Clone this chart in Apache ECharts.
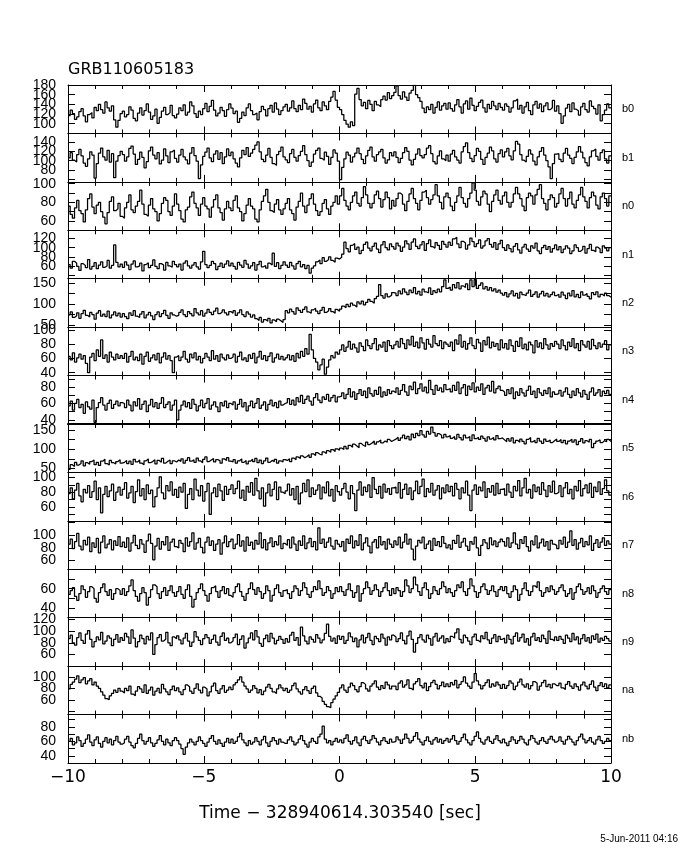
<!DOCTYPE html>
<html><head><meta charset="utf-8">
<script src="https://cdn.jsdelivr.net/npm/echarts@6/dist/echarts.min.js"></script>
<style>html,body{margin:0;padding:0;background:#fff}#c{width:680px;height:850px}</style>
</head><body><div id="c"></div>
<script>
const titleText = 'GRB110605183';
const xTitle = 'Time \u2212 328940614.303540 [sec]';
const dateText = '5-Jun-2011 04:16';
const detectors = ['b0','b1','n0','n1','n2','n3','n4','n5','n6','n7','n8','n9','na','nb'];
const tStart = -10, tEnd = 10, binWidth = 0.08;
const xTickLabels = [-10,-5,0,5,10];

const b0 = [117,128,121,109,114,125,131,116,104,119,123,112,134,127,140,129,122,145,133,126,137,108,93,107,121,
126,114,119,135,128,111,106,122,133,118,127,141,124,109,116,130,101,113,126,134,119,123,138,117,112,
120,133,127,139,118,124,145,137,121,113,126,119,131,142,125,136,148,128,116,122,134,127,115,129,141,
132,121,126,103,111,124,117,133,141,127,119,122,108,125,136,129,116,131,138,124,143,130,119,127,135,
140,126,133,147,131,125,138,129,151,142,130,136,124,141,149,133,127,145,137,129,146,155,167,149,134,
129,119,107,99,93,104,96,161,173,150,137,144,131,148,140,127,146,139,135,150,157,149,164,152,158,
165,178,158,151,166,155,148,163,169,179,160,154,146,132,123,135,129,140,122,134,145,128,137,142,130,
143,131,126,139,150,135,122,141,147,130,153,138,127,136,144,149,133,124,140,131,146,137,129,142,134,
128,141,136,124,133,147,151,130,138,122,135,144,127,119,139,146,132,141,125,137,143,129,133,148,126,
137,121,101,116,132,140,125,143,130,127,118,135,142,129,124,147,136,131,120,139,106,119,128,141,133];
const b1 = [106,117,101,97,113,124,110,95,88,104,119,112,63,94,116,127,108,101,122,97,115,64,99,111,120,
113,99,108,126,131,114,92,103,118,107,85,98,121,129,112,104,117,93,101,125,110,96,119,123,105,
97,112,124,108,102,93,116,128,111,99,62,91,109,118,127,106,98,114,121,103,117,94,108,125,111,
118,104,95,87,106,122,113,128,109,116,124,133,140,119,103,98,112,126,107,94,90,113,120,129,108,
102,96,115,124,107,99,111,120,132,113,100,88,97,114,122,127,105,101,118,109,92,107,123,116,99,
60,86,104,118,112,97,108,116,127,115,103,94,110,122,129,108,99,113,119,124,106,95,102,117,110,
119,107,96,105,117,128,120,101,91,103,114,125,111,106,113,127,132,115,98,93,110,121,104,100,112,
99,114,122,108,101,95,119,130,138,117,105,98,111,126,120,103,92,107,116,129,121,104,97,115,123,
108,119,126,110,102,121,141,135,113,101,97,109,123,114,99,91,108,120,128,112,100,87,62,94,114,
115,103,98,116,126,112,105,94,107,119,130,118,106,96,89,108,121,125,109,101,117,123,104,95,110];
const n0 = [76,67,63,74,82,71,68,59,72,84,89,75,68,77,80,70,64,57,69,81,86,71,73,79,65,
63,74,80,88,72,69,76,81,93,78,67,65,77,84,73,70,60,68,79,85,82,70,66,76,89,
78,71,62,59,72,75,86,91,79,74,66,78,85,76,73,64,75,83,88,74,69,61,73,81,74,
71,82,87,74,70,60,68,77,84,76,73,62,59,72,81,87,94,80,71,69,78,83,72,67,73,
79,84,72,68,61,75,81,90,76,69,77,84,89,78,71,66,70,79,83,73,67,76,80,87,78,
87,95,82,76,72,80,87,91,79,76,85,97,88,79,74,79,88,92,84,75,83,91,85,73,82,
76,84,90,88,78,71,81,89,95,84,79,72,82,91,93,85,78,83,88,99,87,80,73,86,90,
85,76,71,80,87,96,85,79,75,84,90,101,93,81,77,86,92,89,78,70,81,88,93,82,78,
87,91,80,75,80,89,96,89,84,76,71,85,90,87,78,88,94,99,84,79,72,83,88,85,75,
79,89,95,84,76,84,91,78,74,82,88,96,86,81,74,85,91,87,77,73,86,90,84,76,87];
const n1 = [63,55,70,66,59,50,65,61,56,74,53,59,67,54,62,69,57,60,72,55,61,106,68,58,64,
57,69,62,52,64,71,58,60,66,49,63,67,56,61,73,59,54,65,62,51,68,60,57,70,63,
58,64,51,66,71,60,55,62,67,58,53,69,92,63,56,61,70,65,52,59,66,57,64,71,60,
66,59,53,68,62,57,72,64,55,60,67,51,63,70,58,61,55,66,62,88,59,67,54,61,69,
62,57,68,60,53,65,70,58,63,54,61,44,55,60,69,73,65,78,70,74,80,72,68,77,75,
79,86,112,98,91,105,109,96,101,87,94,107,112,99,93,103,110,97,89,106,113,100,95,108,102,
97,110,104,92,101,115,108,96,112,119,103,98,106,113,94,109,117,102,99,111,105,96,114,107,101,
112,105,119,123,108,100,114,110,97,106,121,113,102,109,117,99,104,115,120,107,101,111,96,108,116,
100,94,106,98,91,103,109,95,88,101,107,97,92,104,99,110,93,87,100,105,96,102,90,98,106,
95,102,89,97,104,99,87,93,106,100,92,96,103,88,98,107,94,91,101,97,89,104,99,93,100];
const n2 = [74,81,68,72,79,66,77,85,73,69,80,75,64,78,84,71,76,70,83,67,74,81,72,78,69,
77,70,65,79,73,84,71,68,76,82,67,74,80,72,63,75,81,70,77,85,73,66,79,74,71,
73,80,86,75,70,82,77,72,89,79,74,84,71,78,87,80,75,83,90,77,81,86,79,74,82,
78,84,73,79,86,75,70,81,76,69,74,65,61,68,57,63,59,66,55,62,58,64,60,56,63,
84,79,88,82,76,91,85,80,87,93,81,78,86,90,83,77,85,92,80,84,89,82,78,87,83,
88,95,91,99,94,102,97,93,105,100,107,98,104,111,106,102,113,118,146,120,114,124,117,121,127,
126,120,131,124,136,128,122,133,127,139,124,130,121,135,129,126,138,123,132,127,135,129,141,157,137,
140,133,146,138,151,136,143,139,148,134,157,141,158,137,144,150,136,141,133,139,131,136,128,133,126,
121,127,117,124,131,119,125,114,128,122,120,126,133,118,123,129,116,124,130,119,125,117,122,128,120,
123,116,128,121,113,126,119,132,117,123,115,129,121,125,118,112,127,122,129,117,123,119,126,120,116];
const n3 = [63,58,68,55,61,66,59,64,53,40,62,67,57,72,63,86,60,65,55,69,62,58,66,60,64,
60,67,55,63,70,58,62,57,66,52,63,69,56,61,65,58,67,54,62,68,59,64,57,40,62,
64,57,62,70,59,55,66,61,68,58,63,54,60,67,62,57,71,59,64,56,66,61,58,65,60,
62,66,55,63,69,58,61,56,65,60,67,54,62,70,59,64,57,63,68,55,61,66,59,63,58,
61,65,58,64,56,67,61,70,63,74,66,94,72,60,55,44,51,59,38,48,58,64,61,69,66,
72,79,70,76,84,73,80,75,69,82,77,71,86,78,74,81,88,72,79,76,83,70,85,78,74,
79,84,76,88,81,74,86,79,91,77,83,75,89,82,73,87,80,76,92,81,78,85,74,83,80,
77,83,71,86,80,93,76,84,73,81,89,78,74,87,82,70,85,79,90,75,83,77,81,72,86,
75,81,73,86,78,70,84,77,89,74,80,72,83,79,68,85,76,82,74,88,79,73,81,77,84,
80,74,86,78,72,83,77,88,75,81,71,85,79,76,84,73,87,78,74,82,76,80,85,72,79];
const n4 = [57,63,52,60,65,55,59,48,62,56,53,64,37,55,61,67,58,52,60,64,54,59,63,57,61,
60,55,64,58,51,62,57,66,53,59,63,50,58,65,56,61,54,60,67,55,59,62,52,58,64,
40,52,58,63,56,61,54,65,59,51,57,64,55,60,66,53,58,62,56,50,61,57,63,55,60,
58,62,53,59,65,56,61,51,57,63,55,60,66,54,58,62,52,59,64,57,61,55,63,58,60,
61,66,59,64,58,67,62,70,60,65,69,63,58,67,72,64,61,68,65,71,63,67,70,62,68,
69,73,66,71,78,68,74,65,72,77,70,75,67,79,72,69,76,71,80,68,74,70,77,72,75,
73,79,71,76,83,74,70,81,77,86,72,78,84,75,80,73,88,77,71,82,76,79,74,83,77,
78,74,82,76,86,72,79,83,70,81,77,85,74,80,76,84,71,79,82,75,87,73,78,81,76,
74,70,77,72,79,66,74,70,78,73,69,76,81,71,75,67,78,73,70,76,72,79,68,74,71,
72,76,69,74,79,71,67,75,70,78,73,68,76,71,65,74,79,70,73,77,69,75,72,76,71];
const n5 = [48,60,55,66,59,63,70,57,65,61,68,72,60,66,58,69,74,63,59,71,65,62,68,73,64,
66,71,63,69,61,74,67,72,64,60,70,75,65,68,73,62,71,66,76,64,69,72,63,70,67,
72,68,75,64,71,78,69,73,66,77,70,65,74,80,68,72,76,67,73,70,64,75,71,78,69,
67,73,64,70,75,66,71,62,69,74,68,76,65,72,63,70,77,66,71,68,74,64,70,67,73,
71,75,68,77,73,80,76,83,78,81,86,79,88,84,91,87,85,93,89,96,92,99,94,101,97,
103,99,107,101,110,105,113,108,104,115,110,107,118,112,116,121,113,119,124,116,121,118,125,120,123,
126,131,123,129,136,127,133,124,139,130,141,135,148,137,131,146,139,157,143,134,140,136,129,138,132,
135,128,133,126,138,130,124,136,129,133,122,137,127,131,125,134,128,121,132,126,130,124,135,127,129,
124,119,127,121,129,116,123,118,126,120,114,125,130,119,123,117,128,121,115,126,120,124,117,122,126,
120,125,117,123,114,121,126,118,124,112,120,127,116,122,118,125,104,115,121,124,117,122,119,125,120];
const n6 = [78,86,71,83,92,75,67,84,79,89,73,81,95,70,86,52,77,88,74,82,91,69,80,87,76,
84,93,72,79,88,66,81,97,75,85,70,90,78,83,60,74,86,101,79,71,89,82,94,76,84,
73,87,80,92,58,77,85,70,98,83,75,89,68,81,92,50,79,86,74,91,82,69,88,77,84,
90,78,85,95,72,83,69,88,80,93,76,99,82,71,86,61,79,91,75,84,94,70,87,80,78,
82,91,76,85,70,88,64,79,92,81,97,74,86,77,83,90,71,87,79,94,75,84,68,89,81,
76,85,92,80,71,89,78,55,83,94,76,87,81,90,73,100,84,78,88,72,91,80,85,77,86,
87,79,93,72,84,91,77,86,70,82,95,78,88,98,74,85,80,92,76,83,89,71,86,79,90,
81,88,75,92,84,71,86,79,95,76,55,83,90,77,87,82,94,73,85,80,89,76,92,78,84,
85,76,91,80,73,88,82,96,75,86,99,79,84,72,90,81,87,77,93,83,74,89,80,95,78,
80,89,74,86,93,78,84,71,88,82,96,75,85,90,79,92,73,87,81,94,77,85,97,82,76];
const n7 = [86,94,79,90,103,83,77,92,85,97,74,88,81,95,72,89,99,80,86,93,77,91,84,98,82,
89,81,96,75,88,100,84,79,93,86,73,91,102,87,61,83,95,78,90,85,98,76,89,94,82,
80,92,87,74,96,83,90,104,78,88,95,81,72,89,97,84,91,76,86,93,70,88,99,82,90,
94,79,86,101,83,91,75,97,84,89,78,92,86,104,80,93,77,88,96,82,90,85,99,79,87,
84,93,80,97,86,76,91,84,99,79,88,95,82,90,77,112,87,94,81,89,96,83,78,92,86,
82,90,75,94,87,99,80,91,84,101,77,88,96,83,72,89,93,80,98,85,90,78,94,86,81,
91,85,97,80,89,102,86,94,78,61,83,92,88,97,79,86,91,76,95,84,90,82,98,87,80,
85,78,92,87,100,81,89,95,83,76,90,86,97,80,68,84,93,88,79,96,85,91,82,89,94,
90,83,96,81,88,104,86,79,93,87,98,82,75,91,85,99,80,88,94,83,90,77,92,86,84,
79,92,86,97,81,89,107,84,93,78,88,95,82,90,85,99,76,87,93,81,89,96,84,91,86];
const n8 = [54,58,61,52,48,55,63,59,51,57,62,60,50,46,56,61,65,57,53,59,49,55,60,58,54,
60,53,57,63,69,58,52,47,55,61,56,43,51,59,64,62,55,50,57,61,53,58,63,56,52,
57,62,54,50,59,64,52,41,49,56,60,65,58,53,47,55,61,63,57,51,58,62,55,60,53,
51,56,62,65,57,52,48,55,60,66,59,54,61,57,50,55,63,58,47,53,60,64,56,52,58,
59,55,50,57,63,60,53,58,66,61,54,51,57,62,59,68,60,53,56,62,58,50,55,61,57,
62,57,53,59,65,58,51,56,63,47,55,60,67,61,54,58,64,59,52,57,61,66,58,53,60,
55,61,58,52,57,69,63,56,60,72,64,57,53,61,66,59,50,55,62,58,54,60,67,62,56,
60,56,52,58,64,61,67,57,53,60,70,63,57,51,56,62,65,59,54,58,63,57,52,59,62,
58,62,55,51,57,63,59,48,54,60,66,58,53,57,63,61,67,58,52,56,61,57,63,59,54,
57,61,64,58,52,55,60,49,56,62,65,59,54,57,61,55,63,58,51,56,60,63,57,54,59];
const n9 = [87,93,80,76,89,97,84,79,95,101,86,73,82,90,85,98,78,83,92,88,75,86,94,81,89,
84,96,90,79,102,88,73,82,93,87,78,91,85,97,60,77,89,94,83,86,98,80,75,90,87,
92,85,78,88,96,83,74,81,99,90,84,77,87,94,89,79,86,93,81,76,91,97,84,88,80,
83,89,95,77,86,92,71,80,88,97,85,101,90,79,74,87,93,82,96,88,78,84,91,86,79,
87,81,93,98,84,89,76,107,92,83,78,90,86,81,94,88,80,85,96,112,91,83,88,79,92,
86,91,79,84,97,90,82,88,73,85,93,80,89,96,84,77,91,87,82,95,88,76,90,85,93,
90,82,87,97,84,78,92,100,86,64,79,89,94,85,81,93,87,76,90,96,83,88,92,80,87,
82,91,88,97,104,86,80,93,89,83,77,90,95,84,81,92,87,98,85,79,88,94,82,91,86,
88,80,93,86,78,91,97,83,89,95,81,87,76,90,96,84,89,82,93,87,79,100,86,83,90,
84,91,86,79,93,88,82,96,85,90,78,87,94,83,89,80,92,86,95,81,88,84,91,87,83];
const na = [79,87,91,96,102,90,95,99,88,93,97,86,91,84,80,74,68,62,60,67,71,77,73,80,75,
72,80,76,84,70,67,75,83,79,73,86,71,77,82,68,75,80,72,87,79,74,69,78,84,76,
81,74,69,78,86,83,75,71,80,88,77,72,82,79,67,74,84,89,76,71,79,85,73,77,82,
78,86,90,95,100,91,84,79,73,77,85,80,72,78,69,75,82,87,80,74,71,79,86,81,76,
80,73,77,85,89,79,74,70,78,83,76,71,80,84,72,66,63,57,52,48,46,55,61,67,73,
81,86,77,73,82,89,85,78,74,83,90,87,79,75,84,88,93,82,78,85,80,91,86,79,84,
84,78,89,93,82,86,95,80,77,88,92,97,85,81,89,76,83,90,94,87,79,85,91,83,88,
83,90,86,94,81,87,92,100,89,84,80,91,106,93,86,79,85,90,95,82,88,84,91,86,80,
87,80,85,93,89,78,84,91,96,86,82,88,79,85,92,89,77,84,90,94,83,87,81,88,85,
85,89,81,78,87,92,84,80,88,83,77,86,91,84,79,87,93,82,76,85,90,83,88,81,86];
const nb = [60,64,55,58,66,61,53,57,63,69,59,54,62,66,57,52,60,65,58,63,55,61,67,59,56,
58,63,67,59,54,51,57,64,70,61,56,60,65,58,53,57,62,68,60,55,63,58,54,61,65,
61,56,50,42,52,58,63,59,55,60,66,61,57,53,59,64,68,60,56,62,57,53,59,64,58,
63,57,60,66,71,62,58,54,61,56,59,65,60,55,62,67,58,53,60,65,61,56,63,59,57,
57,62,66,60,55,58,63,68,61,56,52,59,64,60,57,66,70,81,63,58,61,55,60,64,59,
62,58,64,69,60,56,61,66,58,54,63,67,61,57,62,68,64,59,55,61,65,60,57,63,59,
60,66,62,57,63,70,64,58,61,67,72,63,59,55,61,66,60,56,62,65,59,63,57,61,64,
59,63,68,61,56,60,65,70,62,58,55,61,67,73,64,59,56,62,66,60,57,63,68,61,58,
63,58,54,60,66,62,57,61,67,63,58,55,62,68,64,59,56,61,65,60,57,63,67,62,59,
61,66,60,56,62,67,63,59,55,61,66,70,63,58,61,65,59,56,62,67,61,57,60,64,61];

const seriesValues = [b0,b1,n0,n1,n2,n3,n4,n5,n6,n7,n8,n9,na,nb];
const yRanges = [[80,180],[55,158],[50,102],[32,138],[45,160],[36,104],[35,94],[40,165],[41,107],[46,123],[30,80],[40,123],[34,119],[30,97]];
const yTicks = [[80,100,120,140,160,180],[60,80,100,120,140],[60,70,80,90,100],[40,60,80,100,120],[50,75,100,125,150],[40,60,80,100],[40,50,60,70,80,90],[50,75,100,125,150],[50,60,70,80,90,100],[60,80,100,120],[40,50,60,70],[60,80,100,120],[40,60,80,100],[40,50,60,70,80,90]];
const yTickLabels = [[100,120,140,160,180],[80,100,120,140],[60,80,100],[60,80,100,120],[50,100,150],[40,60,80,100],[40,60,80],[50,100,150],[60,80,100],[60,80,100],[40,60],[60,80,100,120],[60,80,100],[40,60,80]];

const chart = echarts.init(document.getElementById('c'), null, {renderer:'canvas'});
const N = detectors.length;
const plotLeft = 68, plotRight = 611, plotTop = 85, plotBottom = 763;
const panelH = (plotBottom - plotTop) / N;
const black = '#000';
const grids = [], xAxes = [], yAxes = [], series = [];
const minus = v => v < 0 ? '\u2212' + Math.abs(v) : String(v);

for (let i = 0; i < N; i++) {
  grids.push({left: plotLeft, width: plotRight - plotLeft, top: plotTop + i * panelH, height: panelH, show: false});
  const last = i === N - 1;
  const xBase = {
    type: 'value', gridIndex: i, min: tStart, max: tEnd, interval: 5,
    axisLine: {show: true, onZero: false, lineStyle: {color: black, width: 1}},
    axisTick: {show: true, inside: true, length: 7, lineStyle: {color: black, width: 1}},
    minorTick: {show: true, splitNumber: 5, length: 4, lineStyle: {color: black, width: 1}},
    splitLine: {show: false}, minorSplitLine: {show: false}
  };
  xAxes.push(Object.assign({}, xBase, {
    position: 'bottom',
    axisLine: {show: true, onZero: false, lineStyle: {color: black, width: i === 6 ? 2 : 1}},
    axisLabel: {show: last, margin: 6, color: black, fontFamily: 'DejaVu Sans', fontSize: 17,
      customValues: xTickLabels, formatter: minus, hideOverlap: false}
  }));
  xAxes.push(Object.assign({}, xBase, {position: 'top', axisLabel: {show: false}}));
  const yBase = {
    type: 'value', gridIndex: i, min: yRanges[i][0], max: yRanges[i][1],
    axisLine: {show: true, onZero: false, lineStyle: {color: black, width: 1}},
    axisTick: {show: true, inside: true, length: 7, customValues: yTicks[i], lineStyle: {color: black, width: 1}},
    axisLabel: {show: false},
    splitLine: {show: false}
  };
  yAxes.push(Object.assign({}, yBase, {position: 'left'}));
  yAxes.push(Object.assign({}, yBase, {
    position: 'right',
    name: detectors[i], nameLocation: 'middle', nameRotate: 0, nameGap: 11,
    nameTextStyle: {color: black, fontFamily: 'Liberation Sans', fontSize: 11, align: 'left', verticalAlign: 'middle'}
  }));
  const vals = seriesValues[i];
  const data = vals.map((v, k) => [+(tStart + k * binWidth).toFixed(2), v]);
  data.push([tEnd, vals[vals.length - 1]]);
  series.push({
    type: 'line', xAxisIndex: 2 * i, yAxisIndex: 2 * i, data: data, step: 'end',
    symbol: 'none', showSymbol: false, clip: true,
    lineStyle: {color: black, width: 1.25}, silent: true
  });
}

const baseGraphics = [
  {type: 'text', x: 68, y: 70, style: {text: titleText, fill: black, fontFamily: 'DejaVu Sans', fontSize: 16, align: 'left', verticalAlign: 'middle'}},
  {type: 'text', x: 340, y: 814, style: {text: xTitle, fill: black, fontFamily: 'DejaVu Sans', fontSize: 17, align: 'center', verticalAlign: 'middle'}},
  {type: 'text', x: 678, y: 839, style: {text: dateText, fill: black, fontFamily: 'Liberation Sans', fontSize: 10, align: 'right', verticalAlign: 'middle'}}
];

chart.setOption({
  animation: false,
  backgroundColor: '#fff',
  grid: grids, xAxis: xAxes, yAxis: yAxes, series: series,
  graphic: baseGraphics
});

// y tick labels placed through the library's own y scales
const yLabelGraphics = [];
for (let i = 0; i < N; i++) {
  yTickLabels[i].forEach(v => {
    const py = chart.convertToPixel({yAxisIndex: 2 * i}, v);
    yLabelGraphics.push({type: 'text', x: plotLeft - 12, y: py,
      style: {text: String(v), fill: black, fontFamily: 'Liberation Sans', fontSize: 14, align: 'right', verticalAlign: 'middle'}});
  });
}
chart.setOption({graphic: baseGraphics.concat(yLabelGraphics)});
</script>
</body></html>
